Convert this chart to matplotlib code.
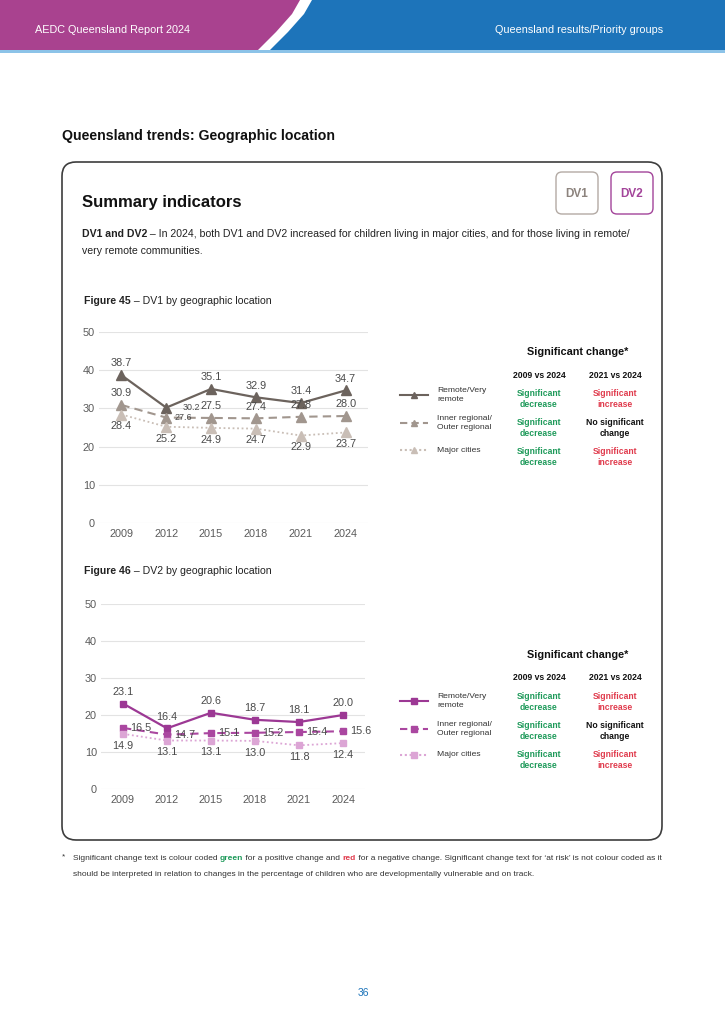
import matplotlib
matplotlib.use('Agg')
import matplotlib.pyplot as plt
from matplotlib.patches import FancyBboxPatch, Polygon

plt.rcParams['font.family'] = ['Liberation Sans', 'DejaVu Sans']

# data
years = ['2009', '2012', '2015', '2018', '2021', '2024']
series_names = ['Remote/Very\nremote', 'Inner regional/\nOuter regional', 'Major cities']
dv1_remote = [38.7, 30.2, 35.1, 32.9, 31.4, 34.7]
dv1_inner = [30.9, 27.6, 27.5, 27.4, 27.8, 28.0]
dv1_major = [28.4, 25.2, 24.9, 24.7, 22.9, 23.7]
dv2_remote = [23.1, 16.4, 20.6, 18.7, 18.1, 20.0]
dv2_inner = [16.5, 14.7, 15.1, 15.2, 15.4, 15.6]
dv2_major = [14.9, 13.1, 13.1, 13.0, 11.8, 12.4]
sig_2009 = ['Significant\ndecrease', 'Significant\ndecrease', 'Significant\ndecrease']
sig_2021 = ['Significant\nincrease', 'No significant\nchange', 'Significant\nincrease']

GREEN = '#1e9a5a'
RED = '#e03a4c'
BLUE = '#1d74ba'
MAGENTA = '#a9428f'
dv1_colors = ['#6c635d', '#a1968e', '#c9beb6']
dv2_colors = ['#9c3894', '#aa47a0', '#dca5d5']
sig_colors = {'decrease': GREEN, 'increase': RED, 'change': '#111111'}

fig = plt.figure(figsize=(7.25, 10.24), dpi=100)
bg = fig.add_axes([0, 0, 1, 1])
bg.set_xlim(0, 725)
bg.set_ylim(1024, 0)
bg.axis('off')
renderer = fig.canvas.get_renderer()


def text_width(s, **kw):
    t1 = bg.text(0, 0, s + '|', **kw)
    t2 = bg.text(0, 0, '|', **kw)
    w = t1.get_window_extent(renderer).width - t2.get_window_extent(renderer).width
    t1.remove()
    t2.remove()
    return w


def rich_text(x, y, parts, size, color='#222222'):
    for s, bold, c in parts:
        kw = dict(fontsize=size, fontweight='bold' if bold else 'normal', color=c or color)
        bg.text(x, y, s, va='center', ha='left', **kw)
        x += text_width(s, **kw)


# header band
bg.add_patch(Polygon([(0, 0), (300, 0), (292, 14), (276, 32), (258, 50), (0, 50)],
                     closed=True, color=MAGENTA, lw=0))
bg.add_patch(Polygon([(312, 0), (725, 0), (725, 50), (270, 50), (288, 32), (304, 14)],
                     closed=True, color=BLUE, lw=0))
bg.add_patch(Polygon([(0, 50), (725, 50), (725, 52.5), (0, 52.5)], closed=True,
                     color='#8cc3e8', lw=0))
bg.text(35, 30, 'AEDC Queensland Report 2024', color='white', fontsize=7.8, va='center')
bg.text(663, 30, 'Queensland results/Priority groups', color='white', fontsize=7.8,
        va='center', ha='right')

bg.text(62, 136, 'Queensland trends: Geographic location', fontsize=10.2,
        fontweight='bold', va='center', color='#111111')

# main rounded panel
bg.add_patch(FancyBboxPatch((62, 162), 600, 678, boxstyle='round,pad=0,rounding_size=14',
                            fc='white', ec='#3d3d3d', lw=1.2))
bg.text(82, 203, 'Summary indicators', fontsize=12, fontweight='bold', va='center',
        color='#111111')
bg.add_patch(FancyBboxPatch((556, 172), 42, 42, boxstyle='round,pad=0,rounding_size=6',
                            fc='white', ec='#b3aaa4', lw=1))
bg.text(577, 194, 'DV1', fontsize=8.5, fontweight='bold', color='#8c837d',
        ha='center', va='center')
bg.add_patch(FancyBboxPatch((611, 172), 42, 42, boxstyle='round,pad=0,rounding_size=6',
                            fc='white', ec='#a3449a', lw=1))
bg.text(632, 194, 'DV2', fontsize=8.5, fontweight='bold', color='#a3449a',
        ha='center', va='center')

rich_text(82, 234, [('DV1 and DV2', True, None),
                    (' \u2013 In 2024, both DV1 and DV2 increased for children living in major '
                     'cities, and for those living in remote/', False, None)], 7.6)
rich_text(82, 251, [('very remote communities.', False, None)], 7.6)


def draw_chart(rect, values, colors, marker, msize, label_rules, title_y, title):
    rich_text(84, title_y, [(title[0], True, None), (title[1], False, None)], 7.6)
    ax = fig.add_axes(rect)
    ax.patch.set_alpha(0)
    x = list(range(len(years)))
    styles = ['-', (0, (4, 2.5)), (0, (1, 1.5))]
    widths = [1.6, 1.5, 1.3]
    for vals, c, ls, lw in zip(values, colors, styles, widths):
        ax.plot(x, vals, color=c, ls=ls, lw=lw, marker=marker, ms=msize,
                mec=c, mfc=c, clip_on=False, zorder=3)
    for vals, rule in zip(values, label_rules):
        for i, v in enumerate(vals):
            dx, dy, ha, fs = rule(i)
            ax.annotate(f'{v:.1f}', (i, v), xytext=(dx, dy), textcoords='offset points',
                        ha=ha, va='center', fontsize=fs, color='#4a4a4a', zorder=4)
    ax.set_xlim(-0.5, 5.5)
    ax.set_ylim(0, 50)
    ax.set_yticks([0, 10, 20, 30, 40, 50])
    ax.set_xticks(x)
    ax.set_xticklabels(years)
    ax.grid(axis='y', color='#e3e3e3', lw=0.8)
    ax.set_axisbelow(True)
    for s in ax.spines.values():
        s.set_visible(False)
    ax.tick_params(length=0, labelsize=7.8, labelcolor='#5a5a5a')
    ax.tick_params(axis='y', pad=3)
    ax.tick_params(axis='x', pad=4)
    return ax


def above(i):
    return (0, 8.5, 'center', 7.8)


def below(i):
    return (0, -8.5, 'center', 7.8)


def dv1_remote_rule(i):
    return (18, 0, 'center', 6.4) if i == 1 else above(i)


def dv1_inner_rule(i):
    return (12, 0, 'center', 6.4) if i == 1 else above(i)


def dv2_inner_rule(i):
    return (5, 0, 'left', 7.8)


draw_chart([99 / 725, 1 - 523 / 1024, 269 / 725, 191 / 1024],
           [dv1_remote, dv1_inner, dv1_major], dv1_colors, '^', 7.5,
           [dv1_remote_rule, dv1_inner_rule, below], 301,
           ('Figure 45', ' \u2013 DV1 by geographic location'))
draw_chart([101 / 725, 1 - 789 / 1024, 264 / 725, 185 / 1024],
           [dv2_remote, dv2_inner, dv2_major], dv2_colors, 's', 4.5,
           [above, dv2_inner_rule, below], 571,
           ('Figure 46', ' \u2013 DV2 by geographic location'))


def draw_table(top, colors, marker, msize, legend_rows):
    bg.text(578, top, 'Significant change*', fontsize=7.8, fontweight='bold',
            ha='center', va='center', color='#111111')
    bg.text(539, top + 23, '2009 vs 2024', fontsize=6.2, fontweight='bold',
            ha='center', va='center', color='#111111')
    bg.text(615, top + 23, '2021 vs 2024', fontsize=6.2, fontweight='bold',
            ha='center', va='center', color='#111111')
    styles = ['-', (0, (3.5, 2)), (0, (1, 1.3))]
    for k in range(3):
        ry = top + 47 + 29 * k
        ly = legend_rows[k]
        bg.plot([400, 428], [ly, ly], color=colors[k], ls=styles[k], lw=1.5)
        bg.plot([414], [ly], marker=marker, ms=msize, color=colors[k])
        bg.text(437, ly, series_names[k], fontsize=6.1, va='center', ha='left',
                color='#333333', linespacing=1.25)
        for cx, txt in [(539, sig_2009[k]), (615, sig_2021[k])]:
            c = sig_colors[txt.split('\n')[1]]
            bg.text(cx, ry, txt, fontsize=6.2, fontweight='bold', ha='center',
                    va='center', color=c, linespacing=1.2)


draw_table(352, dv1_colors, '^', 5, [395, 423, 450])
draw_table(655, dv2_colors, 's', 4, [701, 729, 755])

# footnote
bg.text(62, 857, '*', fontsize=6, va='center', color='#333333')
rich_text(73, 858, [('Significant change text is colour coded ', False, None),
                    ('green', True, GREEN),
                    (' for a positive change and ', False, None),
                    ('red', True, RED),
                    (' for a negative change. Significant change text for \u2018at risk\u2019 is '
                     'not colour coded as it', False, None)], 6.05, '#333333')
rich_text(73, 874, [('should be interpreted in relation to changes in the percentage of '
                     'children who are developmentally vulnerable and on track.', False, None)],
          6.05, '#333333')

bg.text(363, 993, '36', fontsize=7.5, color=BLUE, ha='center', va='center')

fig.savefig('out.png', dpi=100)
